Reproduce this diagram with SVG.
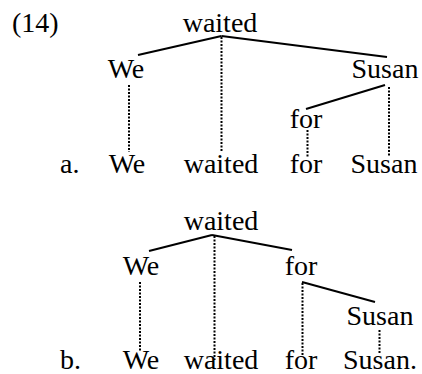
<svg xmlns="http://www.w3.org/2000/svg" width="422" height="374" viewBox="0 0 422 374">
<style>
text{font-family:'Liberation Serif','Times New Roman','DejaVu Serif',serif;font-size:28px;fill:#000}
.m{text-anchor:middle}
.e{stroke:#000;stroke-width:2;fill:none}
.d{stroke:#000;stroke-width:2;stroke-dasharray:2 1.5;fill:none}
</style>
<rect width="422" height="374" fill="#fff"/>
<text x="12" y="32">(14)</text>
<g id="connectors-a">
<line class="e" x1="221.5" y1="36" x2="138" y2="55"/>
<line class="e" x1="221.5" y1="36" x2="387" y2="57"/>
<line class="e" x1="385" y1="85" x2="306" y2="109"/>
<line class="d" x1="221.5" y1="37" x2="221.5" y2="152"/>
<line class="d" x1="129" y1="85" x2="129" y2="152"/>
<line class="d" x1="389" y1="87" x2="389" y2="156"/>
<line class="d" x1="307.5" y1="130" x2="307.5" y2="158"/>
</g>
<g id="a-waited"><text class="m" x="220" y="32">waited</text></g>
<g id="a-We"><text class="m" x="126" y="78">We</text></g>
<g id="a-Susan"><text class="m" x="385" y="78">Susan</text></g>
<g id="a-for"><text class="m" x="306" y="128">for</text></g>
<g id="a-sentence">
<text x="60" y="173">a.</text>
<text class="m" x="127" y="173">We</text>
<text class="m" x="221" y="173">waited</text>
<text class="m" x="306" y="173">for</text>
<text class="m" x="384" y="173">Susan</text>
</g>
<g id="connectors-b">
<line class="e" x1="212" y1="235" x2="149" y2="251"/>
<line class="e" x1="212" y1="235" x2="292" y2="250"/>
<line class="e" x1="302" y1="282" x2="375" y2="302"/>
<line class="d" x1="214.5" y1="236" x2="214.5" y2="360"/>
<line class="d" x1="140" y1="282" x2="140" y2="352"/>
<line class="d" x1="302.5" y1="283" x2="302.5" y2="357"/>
<line class="d" x1="379.5" y1="330" x2="379.5" y2="353"/>
</g>
<g id="b-waited"><text class="m" x="221" y="230">waited</text></g>
<g id="b-We"><text class="m" x="141" y="275">We</text></g>
<g id="b-for"><text class="m" x="301" y="275">for</text></g>
<g id="b-Susan"><text class="m" x="380" y="325">Susan</text></g>
<g id="b-sentence">
<text x="60" y="369">b.</text>
<text class="m" x="141" y="369">We</text>
<text class="m" x="221" y="369">waited</text>
<text class="m" x="301" y="369">for</text>
<text x="343" y="369">Susan.</text>
</g>
</svg>
